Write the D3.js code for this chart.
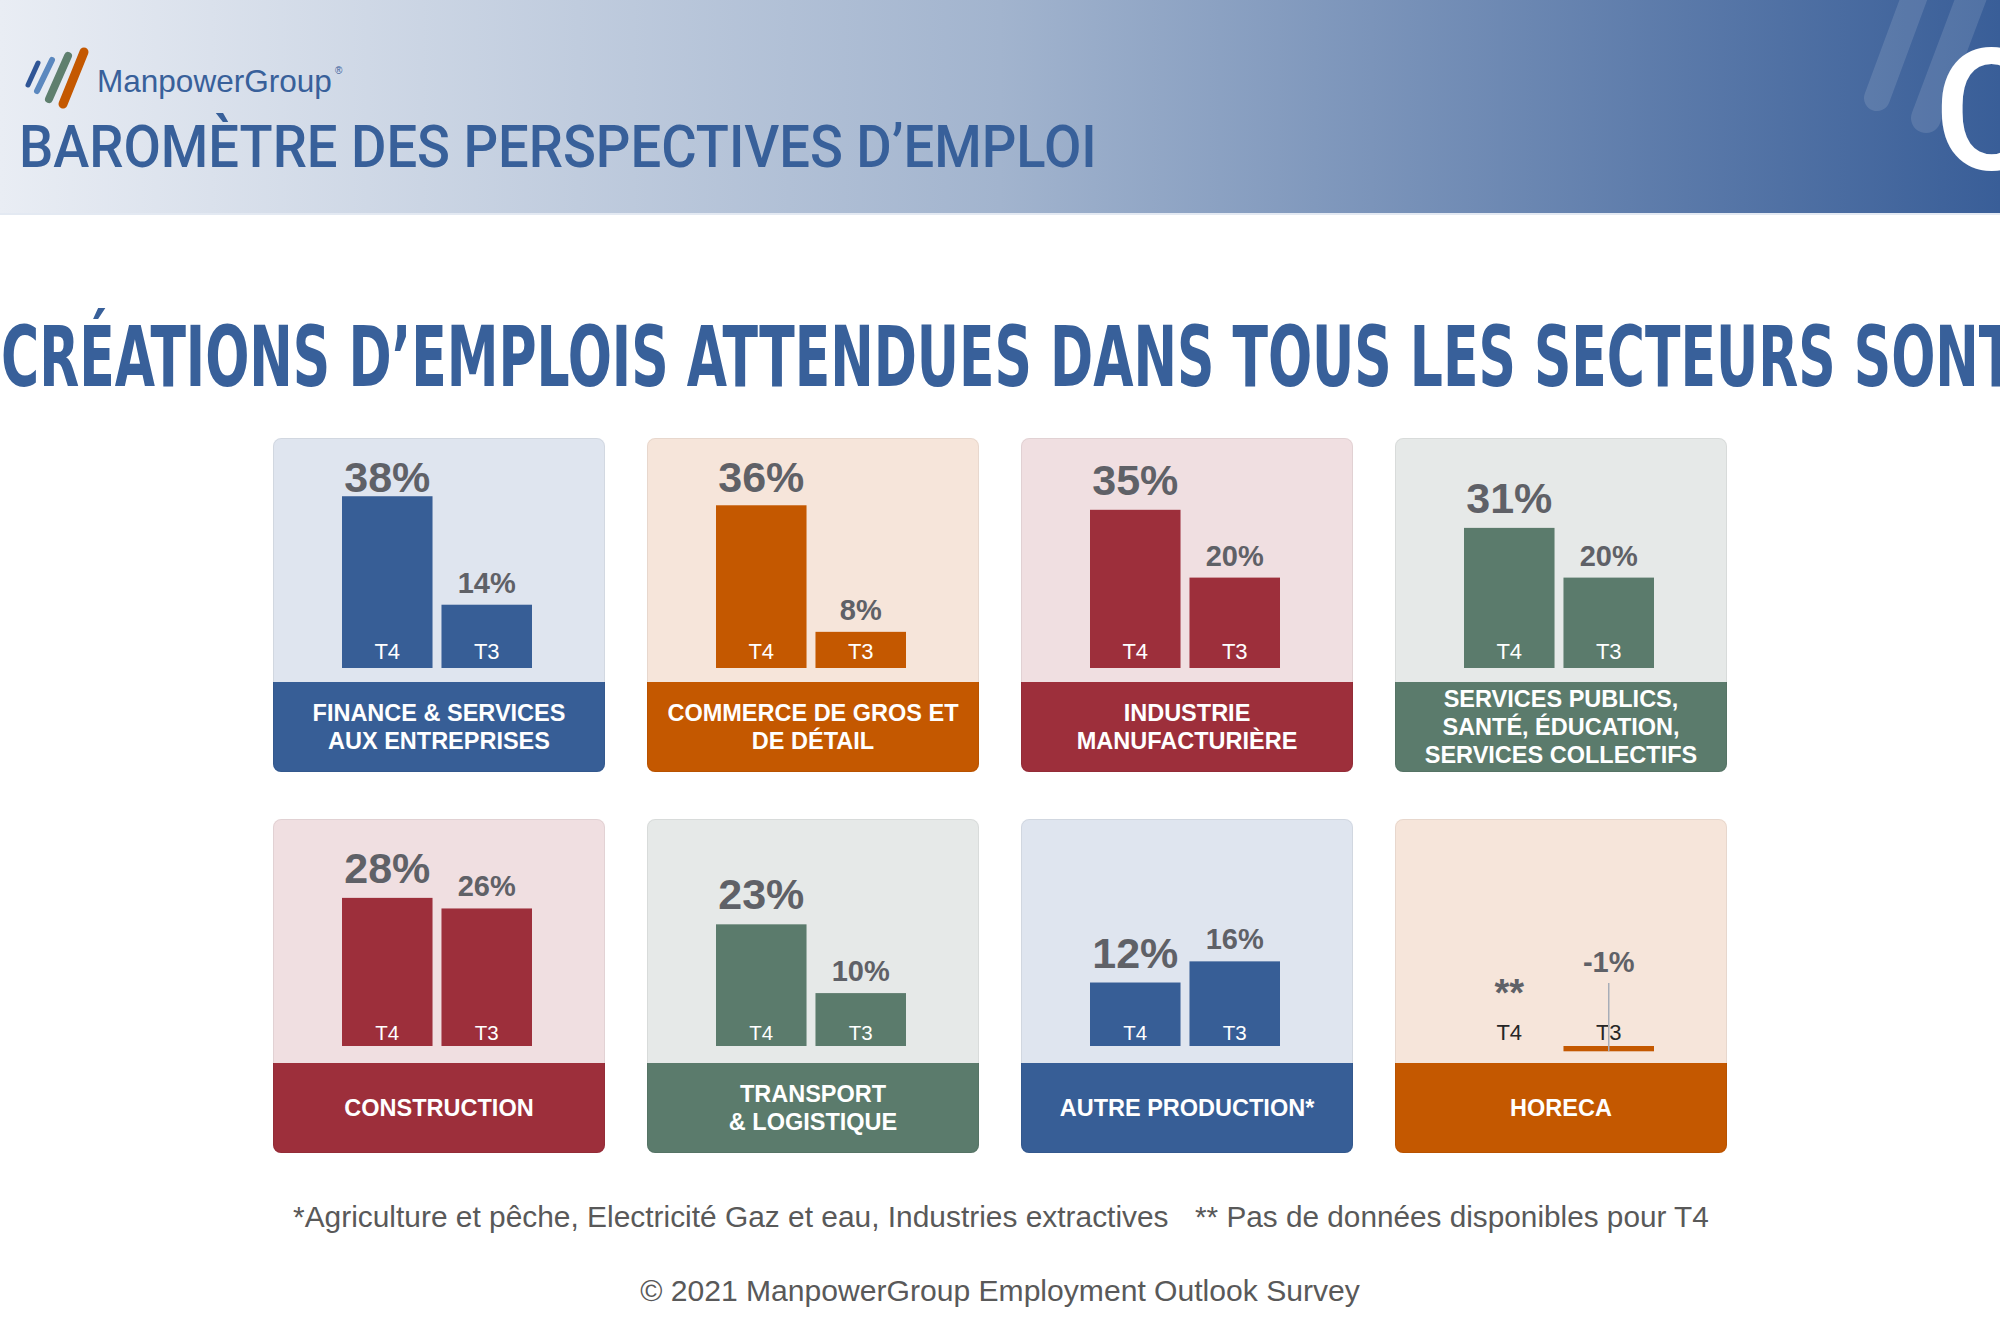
<!DOCTYPE html>
<html><head><meta charset="utf-8">
<script src="https://cdn.jsdelivr.net/npm/d3@7"></script>
<style>html,body{margin:0;padding:0;background:#fff;} svg{display:block}</style>
</head><body>
<script>
// ---------- DATA ----------
const sectors = [
  "FINANCE & SERVICES\nAUX ENTREPRISES",
  "COMMERCE DE GROS ET\nDE DÉTAIL",
  "INDUSTRIE\nMANUFACTURIÈRE",
  "SERVICES PUBLICS,\nSANTÉ, ÉDUCATION,\nSERVICES COLLECTIFS",
  "CONSTRUCTION",
  "TRANSPORT\n& LOGISTIQUE",
  "AUTRE PRODUCTION*",
  "HORECA"
];
const quarters = ["T4", "T3"];
const t4Values = [38, 36, 35, 31, 28, 23, 12, null];
const t3Values = [14, 8, 20, 20, 26, 10, 16, -1];
const missingMark = "**";
const headerTitle = "BAROMÈTRE DES PERSPECTIVES D\u2019EMPLOI";
const brandName = "ManpowerGroup";
const subtitle = "CRÉATIONS D\u2019EMPLOIS ATTENDUES DANS TOUS LES SECTEURS SONT";
const footnoteA = "*Agriculture et pêche, Electricité Gaz et eau, Industries extractives";
const footnoteB = "** Pas de données disponibles pour T4";
const copyright = "© 2021 ManpowerGroup Employment Outlook Survey";
const badge = "Q4 2021";

// ---------- STYLE ----------
const themes = {
  blue:   {band: "#375E96", bg: "#DFE5EF"},
  orange: {band: "#C45800", bg: "#F6E5DA"},
  red:    {band: "#9D2F3B", bg: "#F0DFE1"},
  green:  {band: "#5B7B6C", bg: "#E6E9E8"}
};
const sectorTheme = ["blue", "orange", "red", "green", "red", "green", "blue", "orange"];
const valueGray = "#5F6167";
const brandBlue = "#38609A";

const W = 2000, H = 1333;
const svg = d3.select("body").append("svg").attr("width", W).attr("height", H);
const defs = svg.append("defs");

// ---------- HEADER ----------
const grad = defs.append("linearGradient").attr("id", "hdr").attr("x1", 0).attr("x2", 1).attr("y1", 0).attr("y2", 0);
grad.append("stop").attr("offset", 0).attr("stop-color", "#E9EDF4");
grad.append("stop").attr("offset", 0.5).attr("stop-color", "#A2B4CE");
grad.append("stop").attr("offset", 1).attr("stop-color", "#395E98");
svg.append("rect").attr("x", 0).attr("y", 0).attr("width", W).attr("height", 213).attr("fill", "url(#hdr)");
svg.append("rect").attr("x", 0).attr("y", 213).attr("width", W).attr("height", 2).attr("fill", "#E3E9F2");

// decorative translucent strokes
[[1917, -10, 1877, 98, 26], [1978, -20, 1926, 118, 30]].forEach(s => {
  svg.append("line").attr("x1", s[0]).attr("y1", s[1]).attr("x2", s[2]).attr("y2", s[3])
    .attr("stroke", "#ffffff").attr("stroke-opacity", 0.12).attr("stroke-width", s[4]).attr("stroke-linecap", "round");
});
svg.append("text").attr("x", 1934).attr("y", 169).text(badge)
  .attr("font-family", "Roboto, 'DejaVu Sans', sans-serif").attr("font-weight", 500)
  .attr("font-size", 168).attr("fill", "#ffffff");

// logo strokes
[[38, 63, 28, 85, 5, "#2F5596"], [52, 60, 37, 91, 6, "#5B88BF"], [68, 56, 49, 99, 8, "#5E7F6E"], [84, 52, 63, 104, 9, "#C45800"]]
  .forEach(s => {
    svg.append("line").attr("x1", s[0]).attr("y1", s[1]).attr("x2", s[2]).attr("y2", s[3])
      .attr("stroke", s[5]).attr("stroke-width", s[4]).attr("stroke-linecap", "round");
  });
const brand = svg.append("text").attr("x", 97).attr("y", 92).text(brandName)
  .attr("font-family", "'Liberation Sans', Arial, sans-serif").attr("font-weight", 400)
  .attr("font-size", 31).attr("fill", brandBlue);
fitFont(brand, 235);
svg.append("text").attr("x", 335).attr("y", 74).text("®").attr("font-size", 10)
  .attr("font-family", "'Liberation Sans', sans-serif").attr("fill", brandBlue);

const hTitle = svg.append("text").attr("x", 0).attr("y", 0).text(headerTitle)
  .attr("font-family", "Roboto, 'DejaVu Sans', sans-serif").attr("font-weight", 500)
  .attr("font-size", 59).attr("fill", brandBlue);
{
  const w = hTitle.node().getComputedTextLength();
  hTitle.attr("transform", `translate(19,167) scale(${1078 / w},1)`);
}

// ---------- SUBTITLE ----------
const sub = svg.append("text").attr("x", 0).attr("y", 0).text(subtitle)
  .attr("font-family", "'DejaVu Sans Condensed', 'DejaVu Sans', sans-serif").attr("font-weight", 700)
  .attr("font-size", 84).attr("fill", brandBlue);
{
  const endIdx = subtitle.indexOf("SECTEURS") + "SECTEURS".length;
  const w = sub.node().getSubStringLength(0, endIdx);
  sub.attr("transform", `translate(1,386) scale(${1835 / w},1)`);
}

// ---------- PANELS ----------
const colScale = d3.scaleBand().domain([0, 1, 2, 3]).range([273, 1727]).paddingInner(0.1123).paddingOuter(0);
const rowTop = [438, 819];
const panelH = 334, bandH = 90, radius = 8;
const rowY = [
  d3.scaleLinear().domain([0, 40]).range([668, 668 - 4.52 * 40]),
  d3.scaleLinear().domain([0, 40]).range([1046, 1046 - 5.29 * 40])
];
const rowTick = [{fs: 22, off: 9}, {fs: 20.5, off: 6}];

sectors.forEach((name, i) => {
  const col = i % 4, row = Math.floor(i / 4);
  const px = colScale(col), pw = colScale.bandwidth(), py = rowTop[row];
  const th = themes[sectorTheme[i]];
  const y = rowY[row];
  const y0 = y(0);

  defs.append("clipPath").attr("id", "clip" + i)
    .append("rect").attr("x", px).attr("y", py).attr("width", pw).attr("height", panelH)
    .attr("rx", radius).attr("ry", radius);
  const g = svg.append("g");
  const gc = g.append("g").attr("clip-path", `url(#clip${i})`);
  gc.append("rect").attr("x", px).attr("y", py).attr("width", pw).attr("height", panelH).attr("fill", th.bg);
  gc.append("rect").attr("x", px).attr("y", py + panelH - bandH).attr("width", pw).attr("height", bandH).attr("fill", th.band);
  g.append("rect").attr("x", px + 0.5).attr("y", py + 0.5).attr("width", pw - 1).attr("height", panelH - 1)
    .attr("rx", radius).attr("ry", radius).attr("fill", "none").attr("stroke", "#000").attr("stroke-opacity", 0.06);

  // band label
  const lines = name.split("\n");
  const bandC = py + panelH - bandH / 2;
  const lh = 28, fsB = 23.5, capH = fsB * 0.716;
  lines.forEach((ln, k) => {
    g.append("text").attr("x", px + pw / 2).attr("y", bandC + capH / 2 + (k - (lines.length - 1) / 2) * lh)
      .attr("text-anchor", "middle").attr("font-family", "'Liberation Sans', Arial, sans-serif")
      .attr("font-weight", 700).attr("font-size", fsB).attr("fill", "#fff").text(ln);
  });

  // bars
  const xb = d3.scaleBand().domain(quarters).range([px + 69, px + 69 + 190]).paddingInner(0.09).paddingOuter(0);
  const vals = [t4Values[i], t3Values[i]];
  quarters.forEach((q, k) => {
    const v = vals[k];
    const cx = xb(q) + xb.bandwidth() / 2;
    const big = k === 0;
    let barH = 0;
    if (v !== null) {
      const yv = y(v);
      barH = Math.abs(yv - y0);
      g.append("rect").attr("x", xb(q)).attr("y", Math.min(yv, y0)).attr("width", xb.bandwidth())
        .attr("height", barH).attr("fill", th.band);
    }
    const small = v === null || barH < 20;
    // tick label
    g.append("text").attr("x", cx).attr("y", y0 - (small ? 6 : rowTick[row].off))
      .attr("text-anchor", "middle").attr("font-family", "'Liberation Sans', Arial, sans-serif")
      .attr("font-size", small ? 22 : rowTick[row].fs).attr("fill", small ? "#262626" : "#fff").text(q);
    // value label
    if (v === null) {
      g.append("text").attr("x", cx).attr("y", y0 - 40).attr("text-anchor", "middle")
        .attr("font-family", "'Liberation Sans', Arial, sans-serif").attr("font-weight", 700)
        .attr("font-size", 38).attr("fill", valueGray).text(missingMark);
    } else if (small) {
      g.append("line").attr("x1", cx).attr("x2", cx).attr("y1", y0 - 63).attr("y2", y(v))
        .attr("stroke", "#A7ADB8").attr("stroke-width", 1.5);
      g.append("text").attr("x", cx).attr("y", y0 - 74).attr("text-anchor", "middle")
        .attr("font-family", "'Liberation Sans', Arial, sans-serif").attr("font-weight", 700)
        .attr("font-size", 29).attr("fill", valueGray).text(v + "%");
    } else {
      const top = y(v);
      const gap = big ? 15 : 12;
      g.append("text").attr("x", cx).attr("y", Math.max(top - gap, py + 54)).attr("text-anchor", "middle")
        .attr("font-family", "'Liberation Sans', Arial, sans-serif").attr("font-weight", 700)
        .attr("font-size", big ? 43 : 29).attr("fill", valueGray).text(v + "%");
    }
  });
});

// ---------- FOOTER ----------
const fA = svg.append("text").attr("x", 293).attr("y", 1227).text(footnoteA)
  .attr("font-family", "'Liberation Sans', Arial, sans-serif").attr("font-size", 26).attr("fill", "#595959");
fitFont(fA, 876);
const fB = svg.append("text").attr("x", 1195).attr("y", 1227).text(footnoteB)
  .attr("font-family", "'Liberation Sans', Arial, sans-serif").attr("font-size", 26).attr("fill", "#595959");
fitFont(fB, 514);
const cp = svg.append("text").attr("x", 1000).attr("y", 1301).attr("text-anchor", "middle").text(copyright)
  .attr("font-family", "'Liberation Sans', Arial, sans-serif").attr("font-size", 26).attr("fill", "#595959");
fitFont(cp, 720);

function fitFont(sel, target) {
  const w = sel.node().getComputedTextLength();
  const fs = parseFloat(sel.attr("font-size"));
  sel.attr("font-size", fs * target / w);
}
</script>
</body></html>
